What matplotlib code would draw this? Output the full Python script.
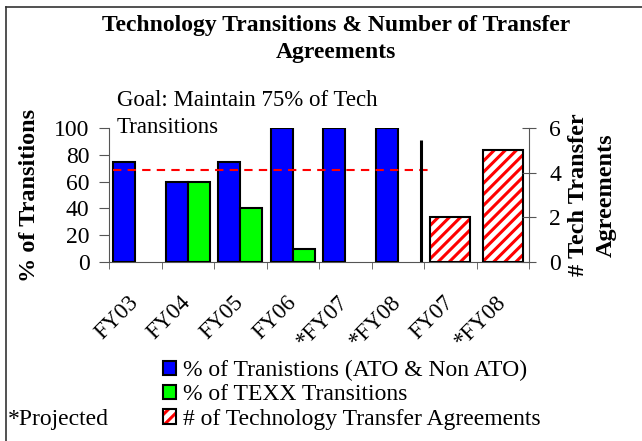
import matplotlib.pyplot as plt
from matplotlib.lines import Line2D
from matplotlib.legend_handler import HandlerTuple
from matplotlib.transforms import ScaledTranslation
import numpy as np

categories = ["FY03", "FY04", "FY05", "FY06", "*FY07", "*FY08", "FY07", "*FY08"]
ato_pct = [75, 60, 75, 100, 100, 100]          # % of transitions (ATO & Non ATO)
texx_pct = [0, 60, 40, 10, 0, 0]               # % of TEXX transitions
transfer_counts = [2, 5]                       # tech transfer agreements (FY07, *FY08)
goal_pct = 69
divider_pct = 91

plt.rcParams["font.family"] = ["Liberation Serif", "DejaVu Serif"]
plt.rcParams["hatch.color"] = "red"
plt.rcParams["hatch.linewidth"] = 2.2

W, H = 642, 441
fig = plt.figure(figsize=(W / 100, H / 100), dpi=100)

# slide frame: only left and top edges fall inside the picture
fig.lines.append(Line2D([6 / W, 6 / W], [0, 1 - 7 / H], transform=fig.transFigure, color="#333333", lw=1.2))
fig.lines.append(Line2D([6 / W, 1], [1 - 7 / H, 1 - 7 / H], transform=fig.transFigure, color="#333333", lw=1.2))

ax = fig.add_axes([109 / W, (H - 262) / H, 420 / W, 134 / H])
ax2 = ax.twinx()

x = np.arange(len(categories))
w = 0.42
blue = ax.bar(x[:6] - 0.21, ato_pct, w, color="#0000FF", edgecolor="black", lw=1.5, zorder=3)
green_x = [xi + 0.21 for xi, v in zip(x[:6], texx_pct) if v > 0]
green_v = [v for v in texx_pct if v > 0]
green = ax.bar(green_x, green_v, w, color="#00FF00", edgecolor="black", lw=1.5, zorder=3)

# goal line and divider
ax.plot([-0.42, 5.58], [goal_pct, goal_pct], color="red", ls=(0, (4, 3)), lw=1.5, zorder=4)
ax.vlines(5.44, 0, divider_pct, color="black", lw=2.2, zorder=4)

# hatched transfer bars on right axis
hatch = ax2.bar(x[6:], transfer_counts, 0.76, color="white", edgecolor=None, hatch="///", lw=0)
outline = ax2.bar(x[6:], transfer_counts, 0.76, fill=False, edgecolor="black", lw=1.5)

ax.set_xlim(-0.5, 7.5)
ax.set_ylim(0, 100)
ax2.set_ylim(0, 6)
ax.set_yticks(range(0, 101, 20))
ax2.set_yticks(range(0, 7, 2))

ax.set_xticks(x)
ax.set_xticks(np.arange(-0.5, 8, 1), minor=True)
ax.set_xticklabels(categories, rotation=45, ha="right", va="center", rotation_mode="anchor",
                   fontsize=16.5)
for lab in ax.get_xticklabels():
    lab.set_transform(lab.get_transform() + ScaledTranslation(-0.18, 0, fig.dpi_scale_trans))
ax.tick_params(axis="x", which="major", length=0, pad=27)
ax.tick_params(axis="x", which="minor", length=5, color="#555555", direction="out")
ax.tick_params(axis="y", length=7, color="#555555", labelsize=17, pad=7)
ax2.tick_params(axis="y", length=9.5, color="#555555", labelsize=17, direction="inout", pad=10)

for a in (ax, ax2):
    a.spines["top"].set_visible(False)
    for s in ("left", "right", "bottom"):
        a.spines[s].set_color("#555555")
ax.spines["right"].set_visible(False)
ax2.spines["left"].set_visible(False)
ax2.spines["bottom"].set_visible(False)

ax.set_ylabel("% of Transitions", fontsize=17.5, fontweight="bold", labelpad=10)
ax2.set_ylabel("# Tech Transfer\nAgreements", fontsize=17.5, fontweight="bold",
               rotation=90, labelpad=5, linespacing=1.39)

fig.text(336 / W, 1 - 39 / H, "Technology Transitions & Number of Transfer\nAgreements",
         ha="center", va="center", fontsize=17, fontweight="bold", linespacing=1.33)
fig.text(117 / W, 1 - 114 / H, "Goal: Maintain 75% of Tech\nTransitions",
         ha="left", va="center", fontsize=16.5, linespacing=1.38)

fig.text(8 / W, 1 - 420 / H, "*Projected", ha="left", va="center", fontsize=17)

leg = fig.legend([blue, green, (hatch, outline)],
                 ["% of Tranistions (ATO & Non ATO)", "% of TEXX Transitions",
                  "# of Technology Transfer Agreements"],
                 handler_map={tuple: HandlerTuple(ndivide=1)},
                 loc="upper left", bbox_to_anchor=(163 / W, 1 - 360 / H),
                 frameon=False, fontsize=17, handlelength=0.55, handleheight=0.55,
                 handletextpad=0.3, labelspacing=0.14, borderpad=0, borderaxespad=0)

fig.savefig("out.png", dpi=100)
